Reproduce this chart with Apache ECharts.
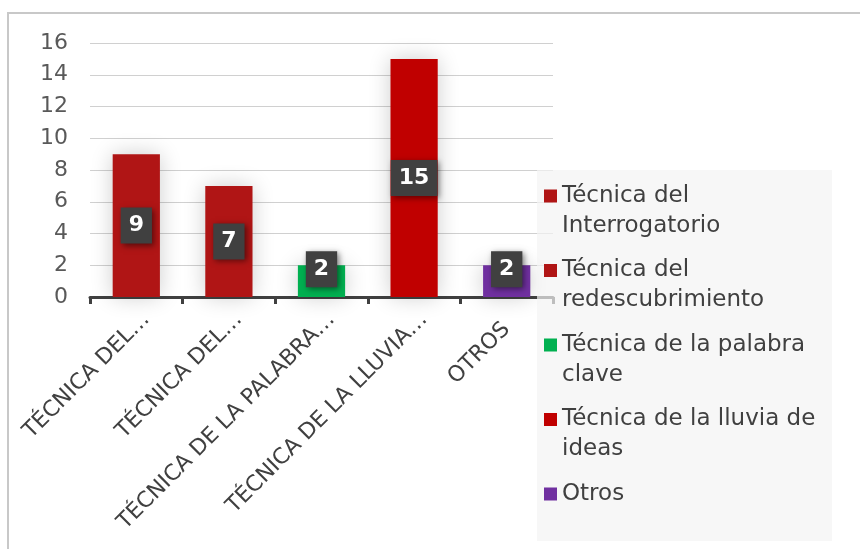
<!DOCTYPE html>
<html>
<head>
<meta charset="utf-8">
<script src="https://cdn.jsdelivr.net/npm/echarts@6/dist/echarts.min.js"></script>
<style>
  html, body { margin: 0; padding: 0; background: #fff; }
  #main { width: 860px; height: 549px; }
</style>
</head>
<body>
<div id="main"></div>
<script>
var categories = ['TÉCNICA DEL INTERROGATORIO', 'TÉCNICA DEL REDESCUBRIMIENTO', 'TÉCNICA DE LA PALABRA CLAVE', 'TÉCNICA DE LA LLUVIA DE IDEAS', 'OTROS'];
var seriesNames = ['Técnica del Interrogatorio', 'Técnica del redescubrimiento', 'Técnica de la palabra clave', 'Técnica de la lluvia de ideas', 'Otros'];
var values = [9, 7, 2, 15, 2];
var colors = ['#b01515', '#b01515', '#00b050', '#c00000', '#7030a0'];
var yTicks = [0, 2, 4, 6, 8, 10, 12, 14, 16];

var font = 'DejaVu Sans';

// word wrap / truncate helpers
function wrap(text, max) {
  var words = text.split(' ');
  var lines = [], cur = '';
  for (var i = 0; i < words.length; i++) {
    var next = cur ? cur + ' ' + words[i] : words[i];
    if (next.length > max && cur) {
      lines.push(cur);
      cur = words[i];
    } else {
      cur = next;
    }
  }
  lines.push(cur);
  return lines;
}
function shorten(text, max) {
  var lines = wrap(text, max);
  return lines.length > 1 ? lines[0] + '…' : lines[0];
}

var series = seriesNames.map(function (name, i) {
  return {
    name: name,
    type: 'bar',
    stack: 'all',
    barWidth: '51%',
    data: categories.map(function (c, j) {
      if (j !== i) return '-';
      var item = { value: values[i] };
      if (values[i] <= 2) item.label = { offset: [0, -12] };
      return item;
    }),
    itemStyle: {
      color: colors[i],
      shadowBlur: 22,
      shadowColor: 'rgba(0,0,0,0.2)'
    },
    label: {
      show: true,
      position: 'inside',
      color: '#fff',
      fontFamily: font,
      fontWeight: 'bold',
      fontSize: 22,
      backgroundColor: '#404040',
      padding: [7, 8],
      shadowBlur: 6,
      shadowColor: 'rgba(0,0,0,0.5)',
      shadowOffsetX: 2,
      shadowOffsetY: 2
    }
  };
});

// shortened labels sit a bit further along the slant
var xData = categories.map(function (c) {
  var cut = wrap(c, 21).length > 1;
  return { value: c, textStyle: { padding: cut ? [0, -14, 0, 0] : 0 } };
});

var chart = echarts.init(document.getElementById('main'));
var option = {
  animation: false,
  backgroundColor: '#fff',
  graphic: [{
    type: 'rect',
    shape: { x: 8, y: 13, width: 900, height: 600 },
    style: { fill: 'none', stroke: '#c8c8c8', lineWidth: 2 },
    z: 0
  }, {
    type: 'rect',
    shape: { x: 537, y: 170, width: 295, height: 371 },
    style: { fill: 'rgba(244,244,244,0.7)' },
    z: 3
  }],
  grid: {
    left: 90,
    right: 307,
    top: 43,
    bottom: 252
  },
  legend: {
    orient: 'vertical',
    left: 544,
    top: 181,
    height: 380,
    padding: 0,
    itemWidth: 13,
    itemHeight: 43,
    itemGap: 14.5,
    // square on the first text line
    icon: 'path://M0,0H13V13H0Z M0,43L13,43',
    selectedMode: false,
    textStyle: {
      fontFamily: font,
      fontSize: 23,
      lineHeight: 30,
      color: '#404040'
    },
    formatter: function (name) {
      var lines = wrap(name, 23);
      if (lines.length < 2) lines.push(' ');
      return lines.join('\n');
    }
  },
  xAxis: {
    type: 'category',
    data: xData,
    axisLine: { lineStyle: { color: '#404040', width: 3 } },
    axisTick: { show: true, length: 7, lineStyle: { color: '#404040', width: 3 } },
    axisLabel: {
      interval: 0,
      rotate: 45,
      margin: 29,
      color: '#404040',
      fontFamily: font,
      fontSize: 22,
      formatter: function (val) {
        return shorten(val, 21);
      }
    }
  },
  yAxis: {
    type: 'value',
    min: yTicks[0],
    max: yTicks[yTicks.length - 1],
    interval: 2,
    axisLine: { show: false },
    axisTick: { show: false },
    axisLabel: {
      margin: 22,
      color: '#595959',
      fontFamily: font,
      fontSize: 22
    },
    splitLine: { lineStyle: { color: '#d0d0d0', width: 1 } }
  },
  series: series
};
chart.setOption(option);
</script>
</body>
</html>
